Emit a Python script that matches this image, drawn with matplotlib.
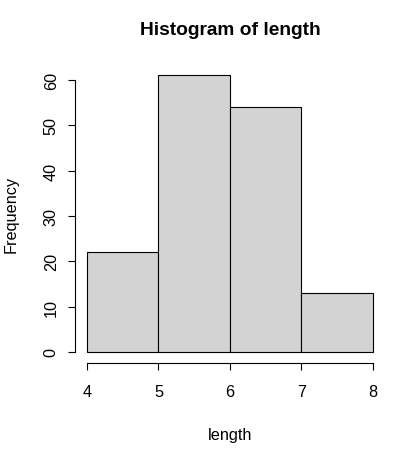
import matplotlib
matplotlib.use("Agg")
import matplotlib.pyplot as plt

# iris sepal length histogram, bins of width 1
bin_edges = [4, 5, 6, 7, 8]
counts = [22, 61, 54, 13]
x_ticks = [4, 5, 6, 7, 8]
y_ticks = [0, 10, 20, 30, 40, 50, 60]

plt.rcParams['font.family'] = ['Liberation Sans', 'DejaVu Sans']

fig = plt.figure(figsize=(3.99, 4.52), dpi=100)
ax = fig.add_axes([0.1892, 0.1947, 0.7742, 0.6606])

widths = [bin_edges[i + 1] - bin_edges[i] for i in range(len(counts))]
ax.bar(bin_edges[:-1], counts, width=widths, align='edge',
       color='#D3D3D3', edgecolor='black', linewidth=0.8)

# R-style extended ranges (4% padding)
ax.set_xlim(4 - 0.04 * 4, 8 + 0.04 * 4)
ax.set_ylim(-0.04 * 61, 61 + 0.04 * 61)

for s in ['top', 'right']:
    ax.spines[s].set_visible(False)
ax.spines['left'].set_bounds(0, 60)
ax.spines['bottom'].set_bounds(4, 8)
ax.spines['left'].set_linewidth(0.8)
ax.spines['bottom'].set_linewidth(0.8)

ax.set_xticks(x_ticks)
ax.set_yticks(y_ticks)
ax.tick_params(direction='out', length=5, width=0.8, labelsize=11.7, pad=10)
ax.tick_params(axis='y', pad=7)
plt.setp(ax.get_yticklabels(), rotation=90, va='center')

ax.set_xlabel('length', fontsize=11.7, labelpad=20)
ax.set_ylabel('Frequency', fontsize=11.7, labelpad=18)
ax.set_title('Histogram of length', fontsize=13.8, fontweight='bold', pad=22)

fig.savefig('out.png', dpi=100)
